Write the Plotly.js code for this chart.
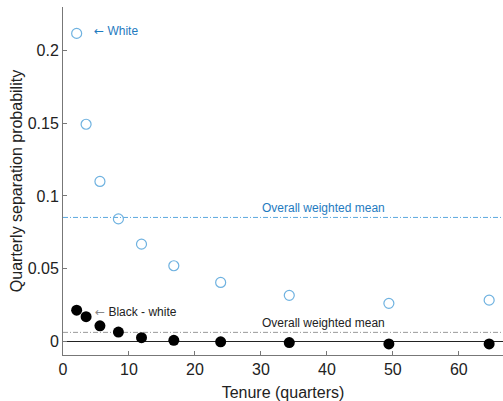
<!DOCTYPE html>
<html>
<head>
<meta charset="utf-8">
<script src="https://cdn.plot.ly/plotly-3.0.1.min.js"></script>
<style>html,body{margin:0;padding:0;background:#fff;}#chart{width:503px;height:401px;}</style>
</head>
<body>
<div id="chart"></div>
<script>
var tenure = [2.07, 3.5, 5.6, 8.4, 11.9, 16.8, 23.9, 34.3, 49.4, 64.6];
var whiteProb = [0.212, 0.1494, 0.110, 0.0842, 0.0668, 0.0519, 0.0404, 0.0315, 0.026, 0.0282];
var blackMinusWhite = [0.0213, 0.0168, 0.0105, 0.0062, 0.0023, 0.0005, -0.0005, -0.001, -0.002, -0.002];
var whiteMean = 0.0852;
var diffMean = 0.006;
var xRange = [0, 66.7];
var xTicks = [0, 10, 20, 30, 40, 50, 60];
var yTicks = [0, 0.05, 0.1, 0.15, 0.2];
var yTickLabels = ['0', '0.05', '0.1', '0.15', '0.2'];

var font = 'Liberation Sans, Arial, Helvetica, sans-serif';
var blueText = '#1f7bbf';
var blueLight = '#6fb2e0';
var blueLine = '#5aa8df';
var arrowSpan = function (color) {
  return '<span style="font-family:DejaVu Sans;color:' + color + '">\u2190</span>';
};

var traces = [
  {x: xRange, y: [whiteMean, whiteMean], mode: 'lines', type: 'scatter',
   line: {color: blueLine, width: 1, dash: '5px,2px,1px,2px'}},
  {x: xRange, y: [diffMean, diffMean], mode: 'lines', type: 'scatter',
   line: {color: '#999999', width: 1, dash: '5px,2px,1px,2px'}},
  {x: tenure, y: whiteProb, mode: 'markers', type: 'scatter',
   marker: {symbol: 'circle-open', size: 10, color: blueLight, line: {width: 1.2, color: blueLight}}},
  {x: tenure, y: blackMinusWhite, mode: 'markers', type: 'scatter',
   marker: {symbol: 'circle', size: 11, color: '#000'}}
];

var layout = {
  width: 503, height: 401,
  margin: {l: 63, r: 0, t: 7, b: 46},
  paper_bgcolor: '#fff', plot_bgcolor: '#fff',
  showlegend: false,
  font: {family: font, size: 16, color: '#222'},
  xaxis: {
    range: xRange, showgrid: false, zeroline: false,
    showline: true, linecolor: '#777', linewidth: 1,
    ticks: 'inside', ticklen: 4, tickcolor: '#777',
    tickvals: xTicks, tickfont: {size: 16, color: '#222'},
    title: {text: 'Tenure (quarters)', font: {size: 16, color: '#222'}, standoff: 9}
  },
  yaxis: {
    range: [-0.0096, 0.2302], showgrid: false,
    zeroline: true, zerolinecolor: '#222', zerolinewidth: 1,
    showline: true, linecolor: '#777', linewidth: 1,
    ticks: 'inside', ticklen: 4, tickcolor: '#777',
    tickvals: yTicks, ticktext: yTickLabels, tickfont: {size: 16, color: '#222'},
    title: {text: 'Quarterly separation probability', font: {size: 16, color: '#222'}, standoff: 1}
  },
  annotations: [
    {x: 4.4, y: 0.214, xref: 'x', yref: 'y', text: arrowSpan(blueText) + ' White', showarrow: false,
     xanchor: 'left', yanchor: 'middle', font: {size: 12, color: blueText, family: font}},
    {x: 4.5, y: 0.0198, xref: 'x', yref: 'y', text: arrowSpan('#888') + ' Black - white', showarrow: false,
     xanchor: 'left', yanchor: 'middle', font: {size: 12, color: '#222', family: font}},
    {x: 39.5, y: whiteMean, xref: 'x', yref: 'y', text: 'Overall weighted mean', showarrow: false,
     xanchor: 'center', yanchor: 'bottom', font: {size: 12, color: blueText, family: font}},
    {x: 39.5, y: diffMean, xref: 'x', yref: 'y', text: 'Overall weighted mean', showarrow: false,
     xanchor: 'center', yanchor: 'bottom', font: {size: 12, color: '#222', family: font}}
  ]
};

Plotly.newPlot('chart', traces, layout, {displayModeBar: false, staticPlot: true});
</script>
</body>
</html>
